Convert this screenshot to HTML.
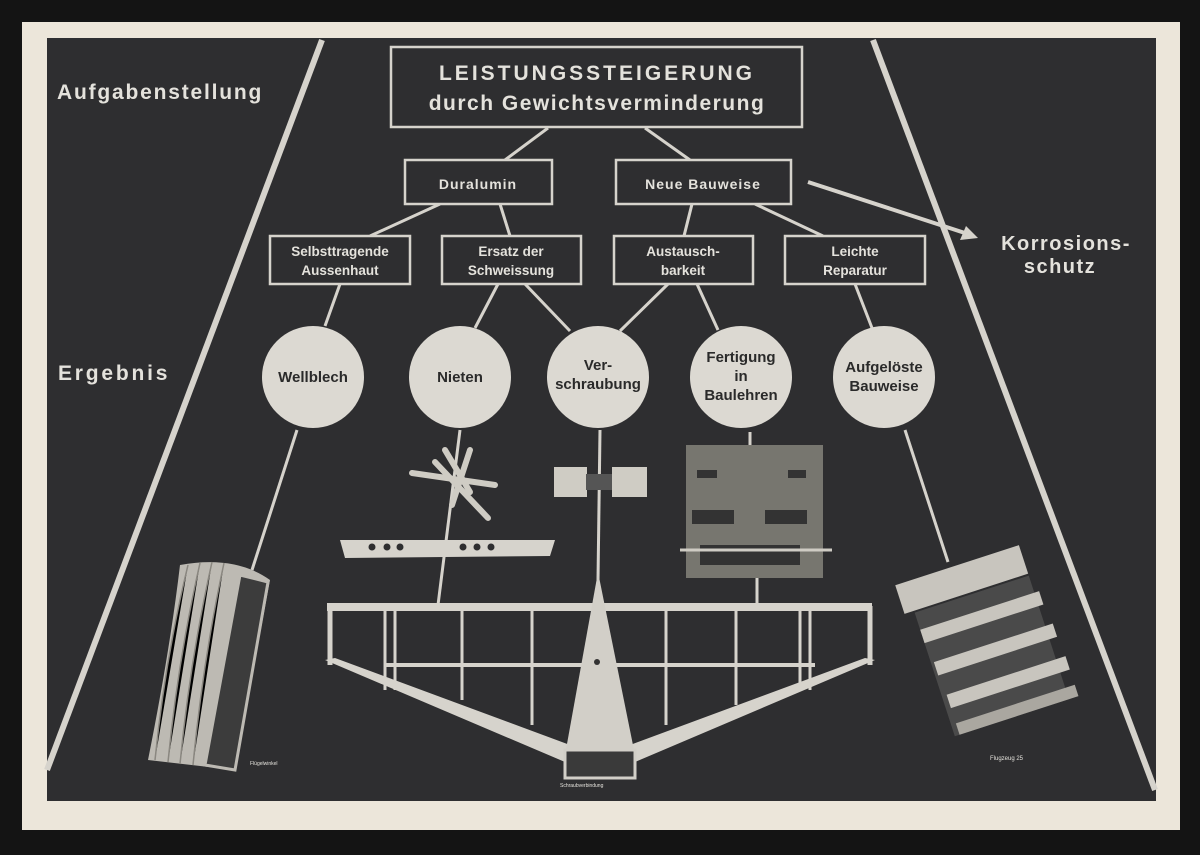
<!DOCTYPE html>
<html><head><meta charset="utf-8"><style>
html,body{margin:0;padding:0;background:#141414;}
svg{display:block}
text{font-family:"Liberation Sans",sans-serif;font-weight:bold;fill:#e4e2dc;}
</style></head><body>
<svg width="1200" height="855" viewBox="0 0 1200 855" xmlns="http://www.w3.org/2000/svg">
<rect x="0" y="0" width="1200" height="855" fill="#141414"/>
<rect x="22" y="22" width="1158" height="808" fill="#ece6da"/>
<rect x="47" y="38" width="1109" height="763" fill="#2e2e30"/>
<g stroke="#d6d3cc" stroke-width="6" fill="none">
<line x1="322" y1="40" x2="47" y2="770"/>
<line x1="873" y1="40" x2="1155" y2="790"/>
</g>
<g stroke="#d6d3cc" stroke-width="3" fill="none">
<line x1="548" y1="128" x2="505" y2="160"/>
<line x1="645" y1="128" x2="690" y2="160"/>
<line x1="440" y1="204" x2="370" y2="236"/>
<line x1="500" y1="204" x2="510" y2="236"/>
<line x1="692" y1="204" x2="684" y2="236"/>
<line x1="755" y1="204" x2="823" y2="236"/>
<line x1="808" y1="182" x2="968" y2="234" stroke-width="4"/>
<line x1="340" y1="284" x2="325" y2="326"/>
<line x1="498" y1="284" x2="475" y2="328"/>
<line x1="525" y1="284" x2="570" y2="331"/>
<line x1="668" y1="284" x2="620" y2="331"/>
<line x1="697" y1="284" x2="718" y2="330"/>
<line x1="855" y1="284" x2="872" y2="328"/>
<line x1="297" y1="430" x2="252" y2="570"/>
<line x1="460" y1="430" x2="438" y2="605"/>
<line x1="600" y1="430" x2="598" y2="580"/>
<line x1="750" y1="432" x2="750" y2="446"/>
<line x1="757" y1="578" x2="757" y2="603"/>
<line x1="905" y1="430" x2="948" y2="562"/>
</g>
<polygon points="978,238 960,240 966,226" fill="#d6d3cc"/>
<g fill="#2e2e30" stroke="#d6d3cc" stroke-width="2.5">
<rect x="391" y="47" width="411" height="80"/>
<rect x="405" y="160" width="147" height="44"/>
<rect x="616" y="160" width="175" height="44"/>
<rect x="270" y="236" width="140" height="48"/>
<rect x="442" y="236" width="139" height="48"/>
<rect x="614" y="236" width="139" height="48"/>
<rect x="785" y="236" width="140" height="48"/>
</g>
<text x="597" y="80" font-size="21" text-anchor="middle" letter-spacing="3">LEISTUNGSSTEIGERUNG</text>
<text x="597" y="110" font-size="21" text-anchor="middle" letter-spacing="1.5">durch Gewichtsverminderung</text>
<text x="478" y="189" font-size="14" text-anchor="middle" letter-spacing="1">Duralumin</text>
<text x="703" y="189" font-size="14" text-anchor="middle" letter-spacing="1">Neue Bauweise</text>
<g font-size="13.5" text-anchor="middle">
<text x="340" y="256">Selbsttragende</text><text x="340" y="275">Aussenhaut</text>
<text x="511" y="256">Ersatz der</text><text x="511" y="275">Schweissung</text>
<text x="683" y="256">Austausch-</text><text x="683" y="275">barkeit</text>
<text x="855" y="256">Leichte</text><text x="855" y="275">Reparatur</text>
</g>
<text x="57" y="99" font-size="21" letter-spacing="1.8">Aufgabenstellung</text>
<text x="58" y="380" font-size="21" letter-spacing="2.8">Ergebnis</text>
<text x="1066" y="250" font-size="20" text-anchor="middle" letter-spacing="1.5">Korrosions-</text>
<text x="1060" y="273" font-size="20" text-anchor="middle" letter-spacing="1.5">schutz</text>
<g fill="#dcd9d2">
<circle cx="313" cy="377" r="51"/><circle cx="460" cy="377" r="51"/>
<circle cx="598" cy="377" r="51"/><circle cx="741" cy="377" r="51"/>
<circle cx="884" cy="377" r="51"/>
</g>
<g font-size="15" text-anchor="middle">
<text x="313" y="382" style="fill:#2a2a2a">Wellblech</text>
<text x="460" y="382" style="fill:#2a2a2a">Nieten</text>
<text x="598" y="370" style="fill:#2a2a2a">Ver-</text>
<text x="598" y="389" style="fill:#2a2a2a">schraubung</text>
<text x="741" y="362" style="fill:#2a2a2a">Fertigung</text>
<text x="741" y="381" style="fill:#2a2a2a">in</text>
<text x="741" y="400" style="fill:#2a2a2a">Baulehren</text>
<text x="884" y="372" style="fill:#2a2a2a">Aufgelöste</text>
<text x="884" y="391" style="fill:#2a2a2a">Bauweise</text>
</g>
<g stroke="#cfccc4" stroke-width="6" stroke-linecap="round">
<line x1="412" y1="473" x2="495" y2="485"/><line x1="435" y1="462" x2="488" y2="518"/>
<line x1="445" y1="450" x2="470" y2="492"/><line x1="470" y1="450" x2="452" y2="505"/>
</g>
<path d="M340 540 L555 540 L550 556 L345 558 Z" fill="#d6d3cc"/>
<g fill="#2e2e30"><circle cx="372" cy="547" r="3.5"/><circle cx="387" cy="547" r="3.5"/><circle cx="400" cy="547" r="3.5"/><circle cx="463" cy="547" r="3.5"/><circle cx="477" cy="547" r="3.5"/><circle cx="491" cy="547" r="3.5"/></g>
<rect x="554" y="467" width="33" height="30" fill="#cfccc4"/>
<rect x="612" y="467" width="35" height="30" fill="#cfccc4"/>
<rect x="586" y="474" width="26" height="16" fill="#555"/>
<rect x="686" y="445" width="137" height="133" fill="#77766f"/>
<g fill="#333"><rect x="697" y="470" width="20" height="8"/><rect x="788" y="470" width="18" height="8"/><rect x="692" y="510" width="42" height="14"/><rect x="765" y="510" width="42" height="14"/><rect x="700" y="545" width="100" height="20"/></g>
<line x1="680" y1="550" x2="832" y2="550" stroke="#cfccc4" stroke-width="3"/>
<g fill="none" stroke="#d6d3cc">
<rect x="327" y="603" width="545" height="8" fill="#d6d3cc" stroke="none"/>
<line x1="330" y1="606" x2="330" y2="665" stroke-width="5"/>
<line x1="870" y1="606" x2="870" y2="665" stroke-width="5"/>
<line x1="385" y1="665" x2="815" y2="665" stroke-width="4"/>
<g stroke-width="3">
<line x1="385" y1="610" x2="385" y2="690"/><line x1="395" y1="610" x2="395" y2="690"/>
<line x1="462" y1="610" x2="462" y2="700"/><line x1="532" y1="610" x2="532" y2="725"/>
<line x1="666" y1="610" x2="666" y2="725"/><line x1="736" y1="610" x2="736" y2="705"/>
<line x1="800" y1="610" x2="800" y2="690"/><line x1="810" y1="610" x2="810" y2="690"/>
</g>
</g>
<polygon points="325,660 335,658 570,745 565,762" fill="#d6d3cc"/>
<polygon points="875,660 865,658 630,745 635,762" fill="#d6d3cc"/>
<polygon points="598,572 565,755 635,755" fill="#d2cfc8"/>
<rect x="565" y="750" width="70" height="28" fill="#3a3a3a" stroke="#d2cfc8" stroke-width="3"/>
<circle cx="597" cy="662" r="3" fill="#333"/>
<path d="M180 565 Q235 555 270 580 L235 770 L148 760 Q170 650 180 565 Z" fill="#bdbab3"/>
<g stroke="#8a8780" stroke-width="1.5">
<path d="M188 565 Q165 660 155 760"/><path d="M200 563 Q178 660 168 762"/><path d="M212 562 Q190 660 180 764"/><path d="M224 563 Q203 660 193 765"/>
</g>
<path d="M240 575 L268 582 L235 770 L205 765 Z" fill="#3c3c3c" stroke="#bdbab3" stroke-width="3"/>
<g transform="rotate(-18 985 635)">
<rect x="915" y="560" width="130" height="30" fill="#c8c5be"/>
<rect x="925" y="592" width="120" height="130" fill="#4a4a4a"/>
<rect x="925" y="610" width="125" height="14" fill="#c8c5be"/>
<rect x="928" y="645" width="125" height="14" fill="#c8c5be"/>
<rect x="930" y="680" width="125" height="14" fill="#c8c5be"/>
<rect x="930" y="710" width="125" height="12" fill="#aaa7a0"/>
</g>
<text x="250" y="765" font-size="5" style="font-weight:normal">Flügelwinkel</text>
<text x="560" y="787" font-size="5" style="font-weight:normal">Schraubverbindung</text>
<text x="990" y="760" font-size="6" style="font-weight:normal">Flugzeug 25</text>
</svg>
</body></html>
